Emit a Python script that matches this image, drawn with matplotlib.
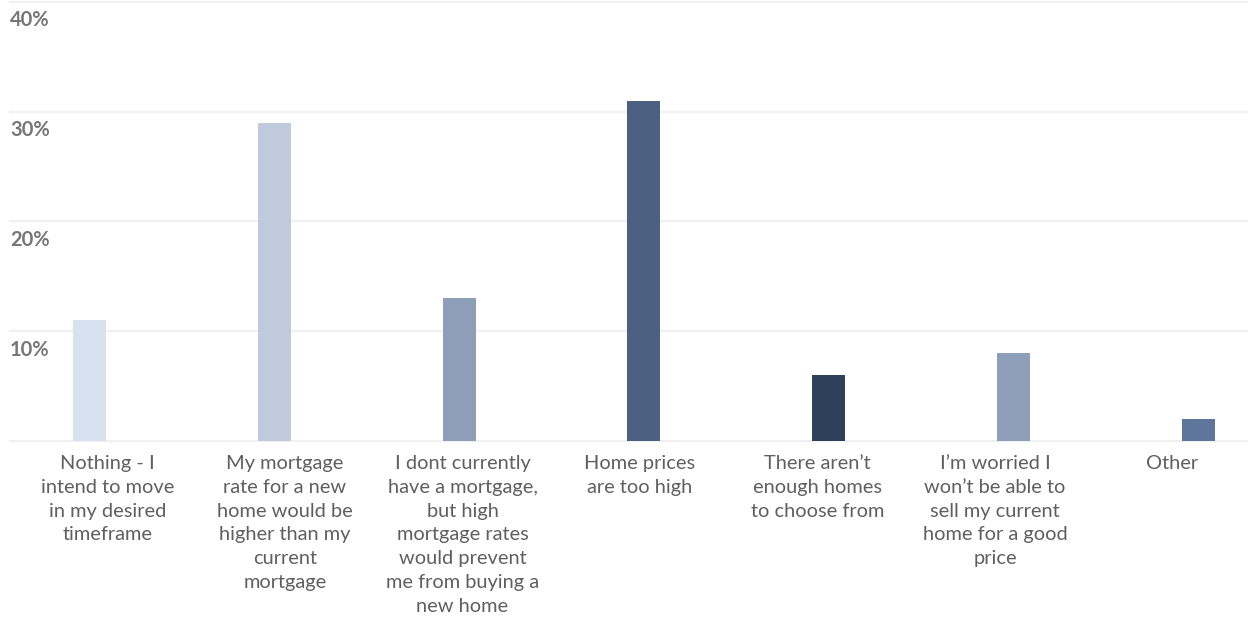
import matplotlib
matplotlib.use("Agg")
import matplotlib.pyplot as plt

categories = [
    "Nothing - I\nintend to move\nin my desired\ntimeframe",
    "My mortgage\nrate for a new\nhome would be\nhigher than my\ncurrent\nmortgage",
    "I dont currently\nhave a mortgage,\nbut high\nmortgage rates\nwould prevent\nme from buying a\nnew home",
    "Home prices\nare too high",
    "There aren\u2019t\nenough homes\nto choose from",
    "I\u2019m worried I\nwon\u2019t be able to\nsell my current\nhome for a good\nprice",
    "Other",
]
values = [11, 29, 13, 31, 6, 8, 2]
colors = ["#d7e1ef", "#bfcadd", "#8e9eb8", "#4c6181", "#2f405a", "#8e9eb8", "#5f769a"]
yticks = [0, 10, 20, 30, 40]
ytick_labels = ["", "10%", "20%", "30%", "40%"]

W, H = 1248, 621
fig = plt.figure(figsize=(W / 100, H / 100), dpi=100)
left_px, right_px = 10, 1248
bottom_px, top_px = 441, 2
ax = fig.add_axes([left_px / W, (H - bottom_px) / H, (right_px - left_px) / W, (bottom_px - top_px) / H])

x = list(range(len(categories)))
# bars sit on a slightly wider pitch than the category labels (as in the source layout)
bar_pitch, bar_shift = 1.0404, -0.099
bar_x = [i * bar_pitch + bar_shift for i in x]
ax.bar(bar_x, values, width=0.186, color=colors, edgecolor="none", zorder=3)

ax.set_xlim(-0.549, 6.425)
ax.set_ylim(0, 40)
for t in yticks:
    ax.axhline(t, color="#f0f0f0", lw=1.5, zorder=1, clip_on=False)
for t, lab in zip(yticks, ytick_labels):
    if lab:
        ax.annotate(lab, xy=(0, t), xycoords=("axes fraction", "data"),
                    xytext=(0, -6), textcoords="offset points",
                    ha="left", va="top", fontsize=14.5, fontweight="bold",
                    color="#767676", family=["Lato", "DejaVu Sans"])

ax.set_xticks(x)
ax.set_xticklabels(categories, fontsize=14.4, color="#5f5f5f", linespacing=1.49,
                   family=["Lato", "DejaVu Sans"], va="top")
ax.tick_params(axis="x", length=0, pad=10)
ax.set_yticks([])
for s in ax.spines.values():
    s.set_visible(False)

fig.savefig("out.png", dpi=100, facecolor="white")
